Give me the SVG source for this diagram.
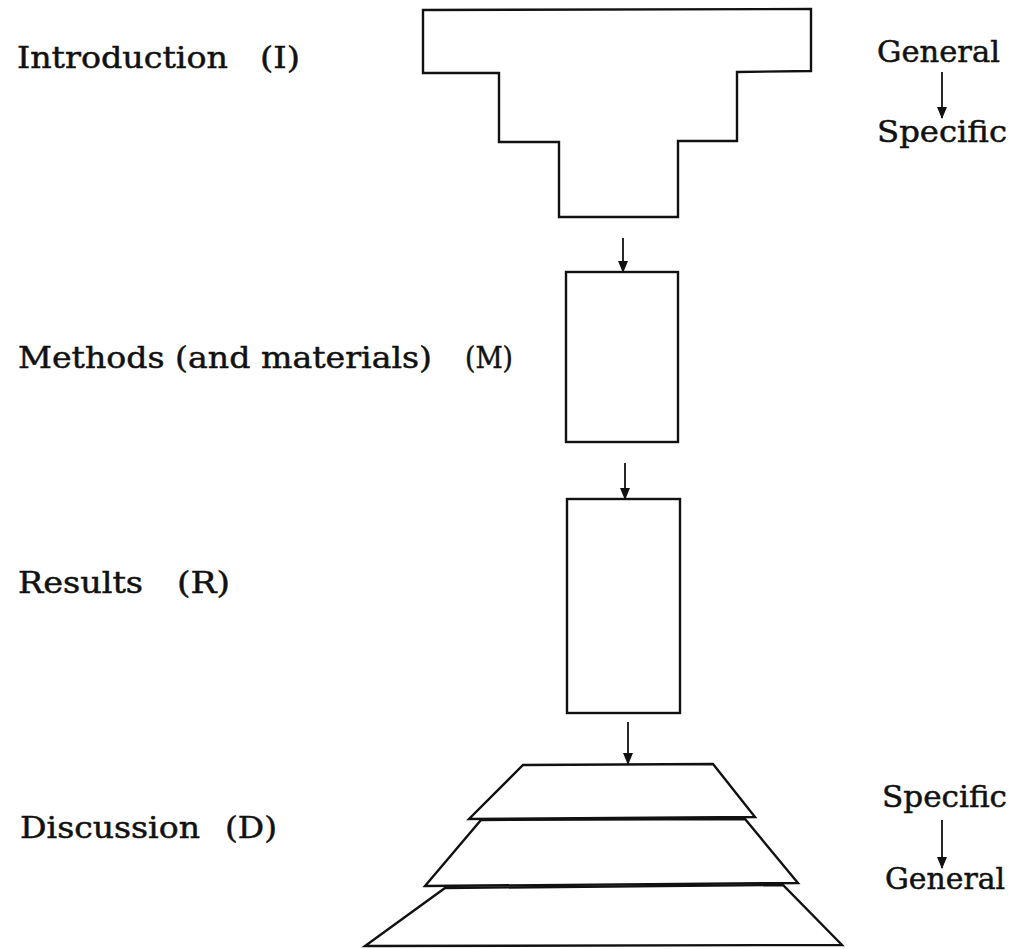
<svg xmlns="http://www.w3.org/2000/svg" width="1014" height="949" viewBox="0 0 1014 949">
<defs>
<style>
.shape{fill:none;stroke:#111;stroke-width:2.4;stroke-linejoin:miter}
.lbl{font-family:"DejaVu Serif","Liberation Serif",serif;font-size:30px;fill:#111;stroke:#111;stroke-width:0.5}
.conn{stroke:#111;stroke-width:1.8;fill:none}
</style>
<marker id="ah" viewBox="0 0 12 12" refX="11" refY="6" markerWidth="12" markerHeight="12" markerUnits="userSpaceOnUse" orient="auto">
<path d="M0,1 L12,6 L0,11 Z" fill="#111"/>
</marker>
</defs>
<rect width="1014" height="949" fill="#fff"/>
<g id="introduction">
<polygon class="shape" points="423,10 811,9 811,71 737,72 737,141 678,141 678,217 559,217 559,142 499,142 499,73 423,73"/>
<text class="lbl" x="17" y="68" textLength="211" lengthAdjust="spacingAndGlyphs">Introduction</text>
<text class="lbl" x="260" y="68" textLength="40" lengthAdjust="spacingAndGlyphs">(I)</text>
</g>
<g id="methods">
<rect class="shape" x="566" y="272" width="112" height="170"/>
<text class="lbl" x="18" y="368" textLength="414" lengthAdjust="spacingAndGlyphs">Methods (and materials)</text>
<text class="lbl" x="465" y="368" textLength="48" lengthAdjust="spacingAndGlyphs">(M)</text>
</g>
<g id="results">
<rect class="shape" x="567" y="499" width="113" height="214"/>
<text class="lbl" x="18" y="593" textLength="125" lengthAdjust="spacingAndGlyphs">Results</text>
<text class="lbl" x="177" y="593" textLength="53" lengthAdjust="spacingAndGlyphs">(R)</text>
</g>
<g id="discussion">
<polygon class="shape" points="523,765 713,764 755,817 469,819"/>
<polygon class="shape" points="481,820 745,819 798,883 425,886"/>
<polygon class="shape" points="445,888 783,885 842,945 365,946"/>
<text class="lbl" x="20" y="838" textLength="180" lengthAdjust="spacingAndGlyphs">Discussion</text>
<text class="lbl" x="225" y="838" textLength="52" lengthAdjust="spacingAndGlyphs">(D)</text>
</g>
<g id="general-to-specific">
<text class="lbl" x="877" y="62" textLength="123" lengthAdjust="spacingAndGlyphs">General</text>
<text class="lbl" x="877" y="142" textLength="130" lengthAdjust="spacingAndGlyphs">Specific</text>
</g>
<g id="specific-to-general">
<text class="lbl" x="882" y="807" textLength="125" lengthAdjust="spacingAndGlyphs">Specific</text>
<text class="lbl" x="885" y="889" textLength="120" lengthAdjust="spacingAndGlyphs">General</text>
</g>
<g id="connectors">
<line class="conn" x1="623" y1="238" x2="623" y2="272" marker-end="url(#ah)"/>
<line class="conn" x1="625" y1="463" x2="625" y2="499" marker-end="url(#ah)"/>
<line class="conn" x1="628" y1="722" x2="628" y2="764" marker-end="url(#ah)"/>
<line class="conn" x1="942" y1="72" x2="942" y2="118" marker-end="url(#ah)"/>
<line class="conn" x1="942" y1="820" x2="942" y2="868" marker-end="url(#ah)"/>
</g>
</svg>
